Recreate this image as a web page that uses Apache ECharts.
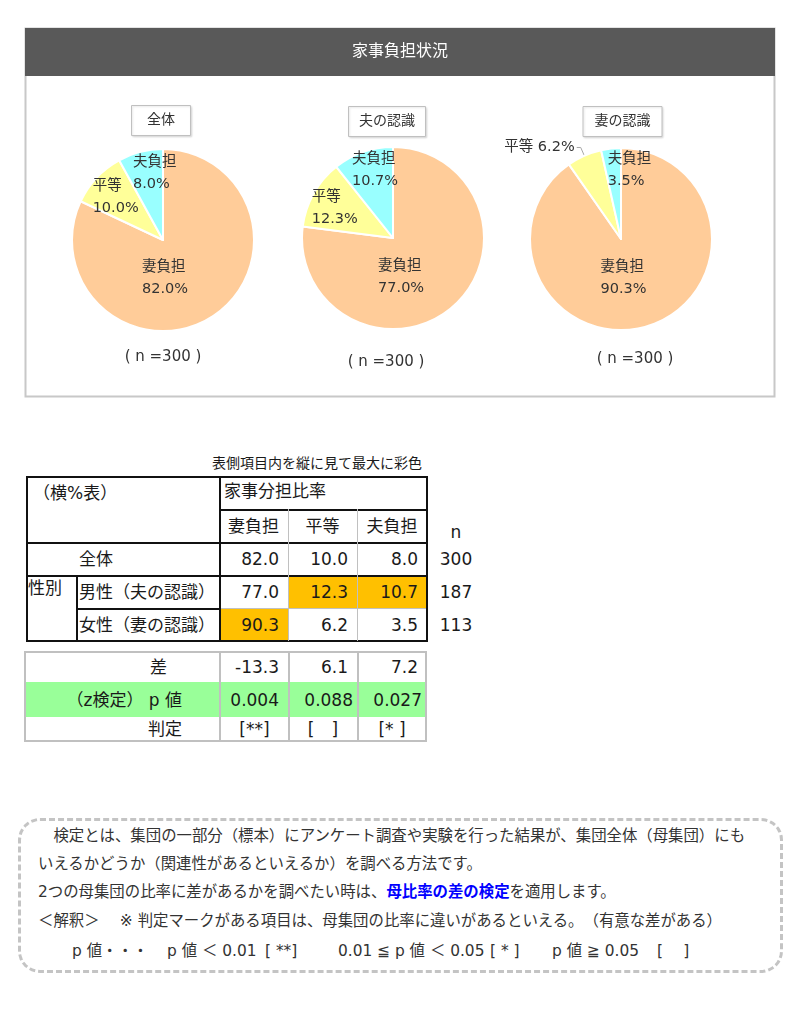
<!DOCTYPE html>
<html>
<head>
<meta charset="utf-8">
<script src="https://cdn.jsdelivr.net/npm/echarts@6/dist/echarts.min.js"></script>
<style>
  html, body { margin: 0; padding: 0; background: #fff; }
  body { width: 800px; height: 1024px; position: relative; overflow: hidden;
         font-family: "DejaVu Sans", "Noto Sans CJK JP", sans-serif; color: #1a1a1a; }
  #chart { position: absolute; left: 0; top: 0; width: 800px; height: 410px; }
  .t { position: absolute; white-space: nowrap; line-height: 1; }
  .ln { position: absolute; }
  #note { position: absolute; left: 18px; top: 818px; width: 759px; height: 149px;
          border: 3px dashed #c4c4c4; border-radius: 22px; }
  .nl { position: absolute; white-space: nowrap; font-size: 15.4px; color: #333; line-height: 1; }
  .blue { color: #0000ff; font-weight: bold; }
</style>
</head>
<body>
<div id="chart"></div>
<div id="tables"></div>
<div id="note"></div>
<script>
// ---------------- data ----------------
const categories = ['妻負担', '平等', '夫負担'];
const pieTitles = ['全体', '夫の認識', '妻の認識'];
const totalShare = [82.0, 10.0, 8.0];
const husbandShare = [77.0, 12.3, 10.7];
const wifeShare = [90.3, 6.2, 3.5];
const pieSampleSizes = [300, 300, 300];
const rowLabels = ['全体', '男性（夫の認識）', '女性（妻の認識）'];
const rowN = [300, 187, 113];
const diffValues = [-13.3, 6.1, 7.2];
const pValues = ['0.004', '0.088', '0.027'];
const judgments = ['[**]', '[\u3000]', '[* ]'];

// ---------------- chart ----------------
const FONT = '"DejaVu Sans", "Noto Sans CJK JP", sans-serif';
const sliceColors = ['#FFCC99', '#FFFF99', '#99FFFF'];
const shares = [totalShare, husbandShare, wifeShare];
const centers = [[163, 240], [393, 238], [621, 239]];
const labelShift = [
  [[-24, -3], [-12, -10], [5, -20]],
  [[-24, 3], [-16, -6], [-2, -22]],
  [[-12, -7], [0, 0], [15, -21]]
];
const outsideSlice = [-1, -1, 1];
const titleBoxes = [[131, 105, 16], [348, 106, 11], [583, 106, 11.5]];
const nPos = [[163, 350], [386, 355], [635, 352]];

const chart = echarts.init(document.getElementById('chart'), null, { renderer: 'canvas' });

const titles = [{
  text: '家事負担状況', left: 'center', top: 44, padding: 0,
  textStyle: { color: '#ffffff', fontSize: 16, fontWeight: 'normal', fontFamily: FONT, lineHeight: 16 }
}];
pieTitles.forEach((t, i) => {
  titles.push({
    text: t, left: titleBoxes[i][0], top: titleBoxes[i][1],
    padding: [7, titleBoxes[i][2]],
    borderColor: '#c0c0c0', borderWidth: 1, backgroundColor: '#fff',
    shadowColor: 'rgba(0,0,0,0.12)', shadowBlur: 2, shadowOffsetX: 1, shadowOffsetY: 1,
    textStyle: { color: '#333', fontSize: 14, fontWeight: 'normal', fontFamily: FONT, lineHeight: 17 }
  });
  titles.push({
    text: '( n =' + pieSampleSizes[i] + ' )', left: nPos[i][0], top: nPos[i][1], textAlign: 'center', padding: 0,
    textStyle: { color: '#333', fontSize: 15, fontWeight: 'normal', fontFamily: FONT, lineHeight: 15 }
  });
});

const series = shares.map((vals, si) => ({
  type: 'pie',
  center: centers[si],
  radius: 91,
  startAngle: 90,
  clockwise: true,
  silent: true,
  animation: false,
  avoidLabelOverlap: false,
  itemStyle: { borderColor: '#ffffff', borderWidth: 2 },
  label: {
    show: true, position: 'inside', rotate: 0, color: '#333',
    fontFamily: FONT, fontSize: 14.5,
    formatter: p => (p.dataIndex === outsideSlice[si])
      ? '{o|' + p.name + ' ' + p.value.toFixed(1) + '%}'
      : '{t|' + p.name + '}\n{t|' + p.value.toFixed(1) + '%}',
    rich: {
      t: { width: 46, align: 'left', fontSize: 14.5, lineHeight: 22, color: '#333', fontFamily: FONT },
      o: { fontSize: 14.5, color: '#333', fontFamily: FONT }
    }
  },
  labelLine: { show: false },
  labelLayout: p => ({ dx: labelShift[si][p.dataIndex][0], dy: labelShift[si][p.dataIndex][1] }),
  data: categories.map((c, i) => {
    const item = { name: c, value: vals[i], itemStyle: { color: sliceColors[i] } };
    if (i === outsideSlice[si]) {
      item.label = { position: 'outside', distanceToLabelLine: 2 };
      item.labelLine = { show: true, length: 9, length2: 4, lineStyle: { color: '#a6a6a6', width: 1 } };
    }
    return item;
  })
}));

chart.setOption({
  animation: false,
  title: titles,
  graphic: [
    { type: 'rect', shape: { x: 25, y: 28, width: 750, height: 48 }, style: { fill: '#595959' }, z: -1 },
    { type: 'rect', shape: { x: 25.5, y: 28.5, width: 749, height: 368 }, style: { fill: 'none', stroke: '#c8c8c8', lineWidth: 2 }, z: -2 }
  ],
  series: series
});

// ---------------- tables ----------------
const root = document.getElementById('tables');
function line(x, y, w, h, color) {
  const d = document.createElement('div');
  d.className = 'ln';
  d.style.cssText = `left:${x}px;top:${y}px;width:${w}px;height:${h}px;background:${color};`;
  root.appendChild(d);
}
function txt(s, x, y, align, size, extra) {
  const d = document.createElement('div');
  d.className = 't';
  d.textContent = s;
  const tx = align === 'center' ? '-50%' : (align === 'right' ? '-100%' : '0');
  d.style.cssText = `left:${x}px;top:${y}px;font-size:${size}px;transform:translate(${tx},-50%);` + (extra || '');
  root.appendChild(d);
}

// highlight: max of each column within gender rows
const genderRows = [husbandShare, wifeShare];
const valRows = [totalShare, husbandShare, wifeShare];
const colL = [219, 288, 357], colR = [288, 357, 427];
const rowT = [542, 575, 608], rowB = [575, 608, 641];
for (let c = 0; c < 3; c++) {
  const maxRow = genderRows[0][c] >= genderRows[1][c] ? 1 : 2;
  line(colL[c], rowT[maxRow], colR[c] - colL[c], rowB[maxRow] - rowT[maxRow], '#FFC000');
}
// upper table lines
const BK = '#111', GR = '#c0c0c0';
line(26, 476, 401, 1.5, BK);
line(219, 509, 208, 1.5, BK);
line(26, 542, 401, 1.5, BK);
line(26, 575, 401, 1.5, BK);
line(76, 608, 143, 1.5, BK);
line(219, 608, 208, 1, GR);
line(26, 640, 401, 1.5, BK);
line(288, 509, 1, 132, GR);
line(357, 509, 1, 132, GR);
line(26, 476, 1.5, 165.5, BK);
line(219, 476, 1.5, 165.5, BK);
line(426, 476, 1.5, 165.5, BK);
line(76, 575, 1.5, 66, BK);

const FS = 17;
txt('表側項目内を縦に見て最大に彩色', 212, 463, 'left', 14);
txt('（横%表）', 33, 493, 'left', FS);
txt('家事分担比率', 224, 491, 'left', FS);
const hdrC = [253.5, 322.5, 392];
categories.forEach((c, i) => txt(c, hdrC[i], 526, 'center', FS));
txt('n', 456, 532, 'center', FS);
const rowCy = [559, 592, 625];
txt(rowLabels[0], 79, rowCy[0], 'left', FS);
txt('性別', 28, 588, 'left', FS);
txt(rowLabels[1], 79, rowCy[1], 'left', FS);
txt(rowLabels[2], 79, rowCy[2], 'left', FS);
const valRight = [279, 348, 418];
valRows.forEach((row, r) => {
  row.forEach((v, c) => txt(v.toFixed(1), valRight[c], rowCy[r], 'right', FS));
  txt(String(rowN[r]), 456, rowCy[r], 'center', FS);
});

// lower table
line(25, 682, 401, 35, '#99FF99');
line(25, 651, 401, 2, GR);
line(25, 740, 401, 2, GR);
line(24, 651, 2, 91, GR);
line(425, 651, 2, 91, GR);
line(219, 651, 2, 91, GR);
line(288, 651, 2, 91, GR);
line(357, 651, 2, 91, GR);
txt('差', 167, 667, 'right', FS);
txt('（z検定） p 値', 182, 700, 'right', FS);
txt('判定', 182, 729, 'right', FS);
diffValues.forEach((v, c) => txt(v.toFixed(1), valRight[c], 667, 'right', FS));
const pRight = [279, 353, 422];
pValues.forEach((v, c) => txt(v, pRight[c], 700, 'right', FS));
const judgeC = [254.5, 323, 392];
judgments.forEach((v, c) => txt(v, judgeC[c], 729, 'center', FS));

// ---------------- note box ----------------
const note = document.getElementById('note');
function nl(html, x, cy) {
  const d = document.createElement('div');
  d.className = 'nl';
  d.innerHTML = html;
  d.style.left = (x - 21) + 'px';
  d.style.top = (cy - 821) + 'px';
  d.style.transform = 'translateY(-50%)';
  note.appendChild(d);
}
nl('\u3000検定とは、集団の一部分（標本）にアンケート調査や実験を行った結果が、集団全体（母集団）にも', 38, 837);
nl('いえるかどうか（関連性があるといえるか）を調べる方法です。', 38, 865);
nl('2つの母集団の比率に差があるかを調べたい時は、<span class="blue">母比率の差の検定</span>を適用します。', 38, 893);
nl('＜解釈＞\u3000 ※ 判定マークがある項目は、母集団の比率に違いがあるといえる。\u3000（有意な差がある）', 38, 922);
nl('p 値・・・', 72, 952);
nl('p 値 ＜ 0.01', 167, 952);
nl('[ **]', 265, 952);
nl('0.01 ≦ p 値 ＜ 0.05', 338, 952);
nl('[ * ]', 490, 952);
nl('p 値 ≧ 0.05', 552, 952);
nl('[\u3000 ]', 657, 952);
</script>
</body>
</html>
